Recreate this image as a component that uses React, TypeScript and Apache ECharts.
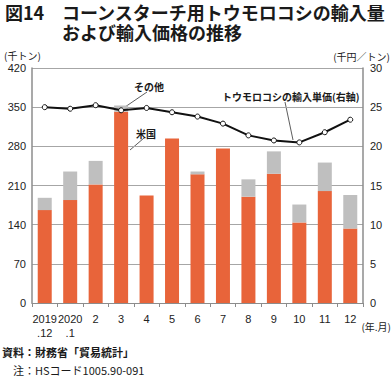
import React, { useEffect, useRef } from "react";
import * as echarts from "echarts";

const categories = ["2019\n.12", "2020\n.1", "2", "3", "4", "5", "6", "7", "8", "9", "10", "11", "12"];
const usImports = [166, 184, 212, 342, 192, 294, 230, 276, 190, 231, 144, 200, 133];
const otherImports = [22, 51, 42, 11, 0, 0, 5, 0, 31, 40, 32, 51, 60];
const unitPrice = [25.0, 24.8, 25.25, 24.6, 24.9, 24.35, 23.8, 22.9, 21.4, 20.75, 20.5, 21.8, 23.4];

const JP = "'Noto Sans CJK JP', sans-serif";
const NUM = "'Liberation Sans', Arial, sans-serif";
const ORANGE = "#E8643A";
const GRAY = "#BFBFBF";
const AXIS = "#8C8C8C";

function txt(x: number, y: number, text: string, size: number, bold: boolean, align: string = "left", lh?: number) {
  return {
    type: "text",
    x,
    y,
    style: {
      text,
      fontFamily: JP,
      fontSize: size,
      fontWeight: bold ? "bold" : "normal",
      lineHeight: lh || size,
      fill: "#1a1a1a",
      textAlign: align,
      textVerticalAlign: "middle",
    },
  };
}

export default function App() {
  const ref = useRef<HTMLDivElement>(null);
  useEffect(() => {
    if (!ref.current) return;
    const chart = echarts.init(ref.current, null, { renderer: "svg" });
    chart.setOption({
      animation: false,
      backgroundColor: "#ffffff",
      grid: { left: 32, right: 28, top: 68, bottom: 74, containLabel: false },
      xAxis: {
        type: "category",
        data: categories,
        axisLine: { show: true, lineStyle: { color: AXIS, width: 1 } },
        axisTick: { show: true, alignWithLabel: false, length: 4, lineStyle: { color: AXIS } },
        axisLabel: { color: "#222", fontFamily: NUM, fontSize: 11, margin: 9, lineHeight: 14, interval: 0 },
      },
      yAxis: [
        {
          type: "value",
          min: 0,
          max: 420,
          interval: 70,
          axisLine: { show: true, lineStyle: { color: AXIS, width: 1.5 } },
          axisTick: { show: false },
          splitLine: { show: true, lineStyle: { color: "#A6A6A6", width: 1 } },
          axisLabel: { color: "#222", fontFamily: NUM, fontSize: 11, margin: 6 },
        },
        {
          type: "value",
          min: 0,
          max: 30,
          interval: 5,
          axisLine: { show: true, lineStyle: { color: AXIS, width: 1.5 } },
          axisTick: { show: false },
          splitLine: { show: false },
          axisLabel: { color: "#222", fontFamily: NUM, fontSize: 11, margin: 7 },
        },
      ],
      series: [
        {
          name: "米国",
          type: "bar",
          stack: "imp",
          data: usImports,
          barWidth: "55%",
          itemStyle: { color: ORANGE },
        },
        {
          name: "その他",
          type: "bar",
          stack: "imp",
          data: otherImports,
          barWidth: "55%",
          itemStyle: { color: GRAY },
        },
        {
          name: "トウモロコシの輸入単価(右軸)",
          type: "line",
          yAxisIndex: 1,
          data: unitPrice,
          symbol: "circle",
          symbolSize: 5,
          lineStyle: { color: "#111", width: 2 },
          itemStyle: { color: "#fff", borderColor: "#111", borderWidth: 1 },
          z: 5,
        },
      ],
      graphic: [
        txt(5, 12, "図14", 18, true),
        txt(62, 22, "コーンスターチ用トウモロコシの輸入量\nおよび輸入価格の推移", 18, true, "left", 20),
        txt(4, 55, "(千トン)", 10, false),
        txt(390, 56, "(千円／トン)", 10, false, "right"),
        txt(391, 326, "(年.月)", 10, false, "right"),
        txt(2, 352, "資料：財務省「貿易統計」", 11, true),
        txt(13, 370, "注：HSコード1005.90-091", 11, false),
        txt(134, 86, "その他", 10, true),
        { type: "line", shape: { x1: 147, y1: 92, x2: 125, y2: 107 }, style: { stroke: "#333", lineWidth: 0.8 } },
        txt(136, 133, "米国", 10, true),
        { type: "line", shape: { x1: 144, y1: 138, x2: 130, y2: 150 }, style: { stroke: "#333", lineWidth: 0.8 } },
        txt(222, 96, "トウモロコシの輸入単価(右軸)", 10, true),
        { type: "line", shape: { x1: 285, y1: 102, x2: 293, y2: 140 }, style: { stroke: "#333", lineWidth: 0.8 } },
      ],
    });
    return () => chart.dispose();
  }, []);
  return (
    <div
      ref={ref}
      style={{ position: "fixed", left: 0, top: 0, width: 391, height: 377, background: "#fff" }}
    />
  );
}
